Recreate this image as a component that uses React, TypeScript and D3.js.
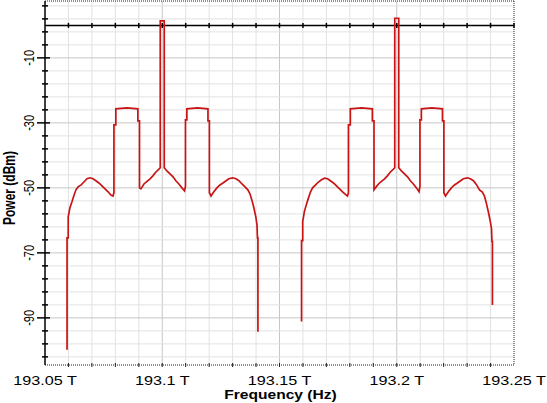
import React from 'react'
import * as d3 from 'd3'

// carrier frequencies (THz) and the shared offset grid of each channel's spectrum (GHz)
const carriersTHz = [193.1, 193.2]
const offsetGHz = [
  -40.6, -40.6, -40.1, -40.1, -39.4, -38.5, -37.6, -36.8, -35.9, -34.6,
  -33.4, -32.1, -30.8, -29.5, -28.3, -27.0, -25.7, -24.4, -23.1, -21.9,
  -21.0, -20.6, -20.6, -19.8, -19.8, -15.0, -10.4, -10.4, -9.7, -9.7,
  -9.1, -7.8, -6.5, -5.2, -4.0, -2.7, -1.4, -0.85, -0.85, 0.85,
  0.85, 2.0, 3.3, 4.6, 5.8, 7.1, 8.4, 9.5, 9.9, 9.9,
  10.5, 10.5, 15.0, 19.5, 19.5, 20.1, 20.1, 20.8, 22.0, 23.3,
  24.6, 25.9, 27.2, 28.4, 30.1, 31.4, 32.7, 34.0, 35.3, 36.5,
  37.4, 38.2, 39.1, 39.9, 40.4, 40.6, 40.8, 40.8,
]
const powerCh1 = [
  -99.8, -65.4, -65.4, -58.9, -56.2, -54.3, -52.2, -50.6, -49.7, -49.1,
  -48.2, -47.2, -46.9, -47.2, -47.8, -48.5, -49.4, -50.3, -51.2, -52.2,
  -52.5, -51.5, -30.6, -30.6, -25.7, -25.4, -25.7, -29.4, -29.4, -50.0,
  -50.3, -48.8, -48.0, -47.2, -46.3, -45.1, -44.2, -43.8, 1.4, 1.4,
  -43.8, -44.8, -45.7, -46.6, -47.8, -48.8, -50.0, -50.9, -49.5, -29.1,
  -29.1, -25.7, -25.4, -25.7, -29.4, -29.4, -51.5, -52.5, -51.2, -50.0,
  -49.1, -48.5, -47.8, -47.2, -46.9, -47.2, -47.8, -48.8, -49.7, -50.6,
  -51.8, -53.7, -56.2, -58.9, -61.4, -65.4, -65.4, -94.3,
]
const powerCh2 = [
  -91.1, -66.2, -66.2, -60.4, -57.3, -55.0, -53.0, -51.3, -50.0, -49.1,
  -48.2, -47.5, -47.0, -47.2, -47.8, -48.5, -49.4, -50.3, -51.2, -52.0,
  -52.5, -51.5, -30.6, -30.6, -25.7, -25.4, -25.7, -29.4, -29.4, -50.6,
  -50.0, -48.8, -48.0, -47.2, -46.3, -45.1, -44.2, -43.8, 2.2, 2.2,
  -43.8, -44.8, -45.7, -46.6, -47.8, -48.8, -50.0, -51.2, -49.5, -29.1,
  -29.1, -25.7, -25.4, -25.7, -29.4, -29.4, -51.5, -52.5, -51.2, -50.0,
  -49.1, -48.5, -47.8, -47.2, -46.9, -47.2, -47.8, -49.0, -50.6, -51.3,
  -52.5, -54.7, -57.5, -60.4, -62.5, -66.5, -66.5, -86.0,
]

const xTicks = [193.05, 193.1, 193.15, 193.2, 193.25]
const xTickLabels = ['193.05 T', '193.1 T', '193.15 T', '193.2 T', '193.25 T']
const yTicks = [-10, -30, -50, -70, -90]
const yTickLabels = ['-10', '-30', '-50', '-70', '-90']

const W = 547
const H = 403
const FONT = '"Liberation Sans", Arial, sans-serif'

export default function App() {
  const x = d3.scaleLinear().domain([193.05, 193.25]).range([45, 514])
  const y = d3.scaleLinear().domain([-104.5, 7.5]).range([365, 1])

  const series = [powerCh1, powerCh2].map((p, c) =>
    offsetGHz.map((o, i) => ({ f: carriersTHz[c] + o / 1000, p: p[i] }))
  )
  const line = d3.line<{ f: number; p: number }>()
    .x(d => x(d.f))
    .y(d => y(d.p))

  // grid: every 0.01 THz and every 4 dB
  const vGrid = d3.range(1, 20).map(i => 193.05 + i * 0.01)
  const hGrid = d3.range(-102, 8, 4)
  const isMajorX = (v: number) => xTicks.some(t => Math.abs(t - v) < 1e-6)
  const [x0, x1] = x.range()
  const [yb, yt] = y.range()

  return (
    <svg width={W} height={H} style={{ position: 'absolute', left: 0, top: 0, background: '#fff' }}>
      {/* grid */}
      {vGrid.map(v => (
        <line key={'v' + v} x1={x(v)} x2={x(v)} y1={yt} y2={yb}
          stroke={isMajorX(v) ? '#c6c6c6' : '#e2e2e2'} strokeWidth={1} />
      ))}
      {hGrid.map(v => (
        <line key={'h' + v} x1={x0} x2={x1} y1={y(v)} y2={y(v)}
          stroke={yTicks.includes(v) ? '#c6c6c6' : '#e2e2e2'} strokeWidth={1} />
      ))}

      {/* frame: dotted top/right/bottom, solid left */}
      <line x1={x0} x2={x1} y1={yt} y2={yt} stroke="#222" strokeDasharray="1,1" />
      <line x1={x1} x2={x1} y1={yt} y2={yb} stroke="#222" strokeDasharray="1,1" />
      <line x1={x0} x2={x1} y1={yb} y2={yb} stroke="#222" strokeDasharray="1,1" />
      {vGrid.map(v => (
        <line key={'bt' + v} x1={x(v)} x2={x(v)} y1={yb - 2} y2={yb + 2} stroke="#222" />
      ))}

      {/* zero dBm line */}
      <line x1={x0} x2={x1} y1={y(0)} y2={y(0)} stroke="#000" strokeWidth={1.5} />
      {vGrid.concat([193.25]).map(v => (
        <line key={'zt' + v} x1={x(v)} x2={x(v)} y1={y(0) - 2.5} y2={y(0) + 2.5} stroke="#000" strokeWidth={1.5} />
      ))}

      {/* left axis */}
      <line x1={x0} x2={x0} y1={yt} y2={yb} stroke="#000" strokeWidth={1.5} />
      {hGrid.map(v => (
        <line key={'yt' + v}
          x1={yTicks.includes(v) ? x0 - 8 : x0 - 3} x2={yTicks.includes(v) ? x0 + 5 : x0 + 3}
          y1={y(v)} y2={y(v)} stroke="#000" strokeWidth={1.5} />
      ))}
      {yTicks.map((v, i) => (
        <text key={'yl' + v} transform={`translate(34,${y(v)}) scale(1.3,1) rotate(-90)`}
          textAnchor="middle" fontFamily={FONT} fontSize={11} fill="#000">{yTickLabels[i]}</text>
      ))}
      <text transform={`translate(14.5,188) scale(1.3,1) rotate(-90)`} textAnchor="middle"
        fontFamily={FONT} fontSize={12} fontWeight="bold" fill="#000">Power (dBm)</text>

      {/* x labels */}
      {xTicks.map((v, i) => (
        <text key={'xl' + v} transform={`translate(${x(v)},385) scale(1.35,1)`}
          textAnchor="middle" fontFamily={FONT} fontSize={12} fill="#000">{xTickLabels[i]}</text>
      ))}
      <text transform={`translate(${(x0 + x1) / 2 + 1},399) scale(1.3,1)`} textAnchor="middle"
        fontFamily={FONT} fontSize={12} fontWeight="bold" fill="#000">Frequency (Hz)</text>

      {/* spectra */}
      {series.map((s, i) => (
        <path key={'s' + i} d={line(s) || ''} fill="none" stroke="#c81414"
          strokeWidth={1.7} strokeLinejoin="miter" />
      ))}
    </svg>
  )
}
